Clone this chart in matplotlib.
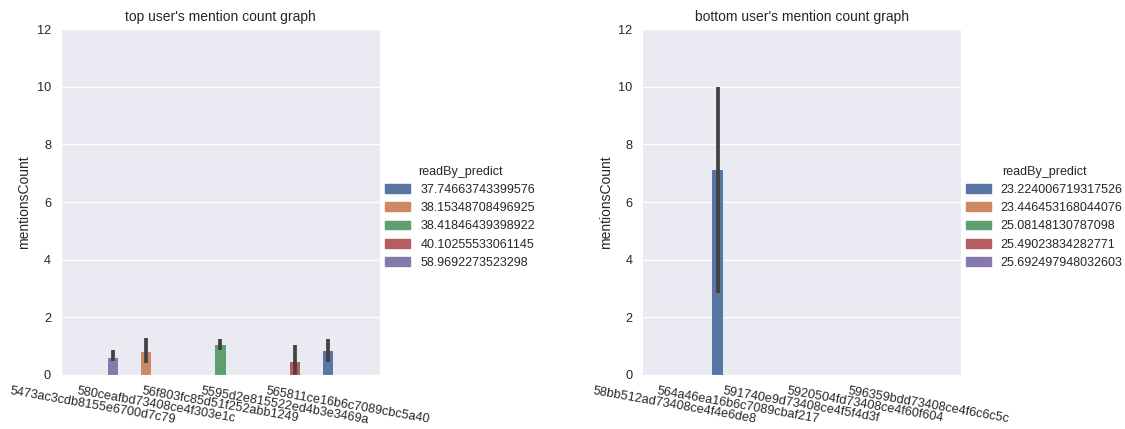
# mention counts per user, split by readBy_predict, for the top and bottom users
import matplotlib
matplotlib.use("Agg")
import matplotlib.pyplot as plt
import matplotlib.patches as mpatches
import seaborn as sns

sns.set_style("darkgrid")
plt.rcParams['font.family'] = ['Liberation Sans', 'DejaVu Sans']

# top users
top_users = ["5473ac3cdb8155e6700d7c79", "580ceafbd73408ce4f303e1c",
             "56f803fc85d51f252abb1249", "5595d2e815522ed4b3e3469a",
             "565811ce16b6c7089cbc5a40"]
top_hues = ["37.74663743399576", "38.15348708496925", "38.41846439398922",
            "40.10255533061145", "58.9692273523298"]
top_hue_idx = [4, 1, 2, 3, 0]          # which readBy_predict each user has
top_mean = [0.58, 0.81, 1.05, 0.45, 0.84]
top_ci_low = [0.49, 0.43, 0.87, 0.0, 0.46]
top_ci_high = [0.85, 1.28, 1.25, 1.05, 1.24]

# bottom users
bottom_users = ["58bb512ad73408ce4f4e6de8", "564a46ea16b6c7089cbaf217",
                "591740e9d73408ce4f5f4d3f", "5920504fd73408ce4f60f604",
                "596359bdd73408ce4f6c6c5c"]
bottom_hues = ["23.224006719317526", "23.446453168044076", "25.08148130787098",
               "25.49023834282771", "25.692497948032603"]
bottom_hue_idx = [2, 0, 3, 4, 1]
bottom_mean = [0.0, 7.1, 0.0, 0.0, 0.0]
bottom_ci_low = [0.0, 2.85, 0.0, 0.0, 0.0]
bottom_ci_high = [0.0, 10.0, 0.0, 0.0, 0.0]

colors = [sns.desaturate(c, 0.75) for c in sns.color_palette("deep", 5)]
bar_w = 0.8 / 5


def draw(ax, users, hues, hue_idx, mean, lo, hi, title):
    for i in range(len(users)):
        x = i + (hue_idx[i] - 2) * bar_w
        ax.bar(x, mean[i], width=bar_w, color=colors[hue_idx[i]], linewidth=0)
        if hi[i] > lo[i]:
            ax.plot([x, x], [lo[i], hi[i]], color=".26", linewidth=2.7,
                    solid_capstyle="butt")
    ax.set_xlim(-0.5, len(users) - 0.5)
    ax.set_ylim(0, 12)
    ax.grid(False, axis="x")
    ax.set_xticks(range(len(users)))
    ax.set_xticklabels(users, rotation=-10, ha="center", fontsize=9.2)
    ax.tick_params(axis="y", labelsize=9.2)
    ax.set_ylabel("mentionsCount", fontsize=10)
    ax.set_title(title, fontsize=10)
    handles = [mpatches.Patch(color=colors[k], label=hues[k]) for k in range(5)]
    ax.legend(handles=handles, title="readBy_predict", loc="upper left",
              bbox_to_anchor=(1.0, 0.62), borderaxespad=0, frameon=False,
              fontsize=9, title_fontsize=9)


fig = plt.figure(figsize=(11.25, 4.29), dpi=100)
ax1 = fig.add_axes([0.054, 0.126, 0.284, 0.806])
ax2 = fig.add_axes([0.571, 0.126, 0.283, 0.806])

draw(ax1, top_users, top_hues, top_hue_idx, top_mean, top_ci_low, top_ci_high,
     "top user's mention count graph")
draw(ax2, bottom_users, bottom_hues, bottom_hue_idx, bottom_mean,
     bottom_ci_low, bottom_ci_high, "bottom user's mention count graph")

plt.savefig("out.png", dpi=100)
